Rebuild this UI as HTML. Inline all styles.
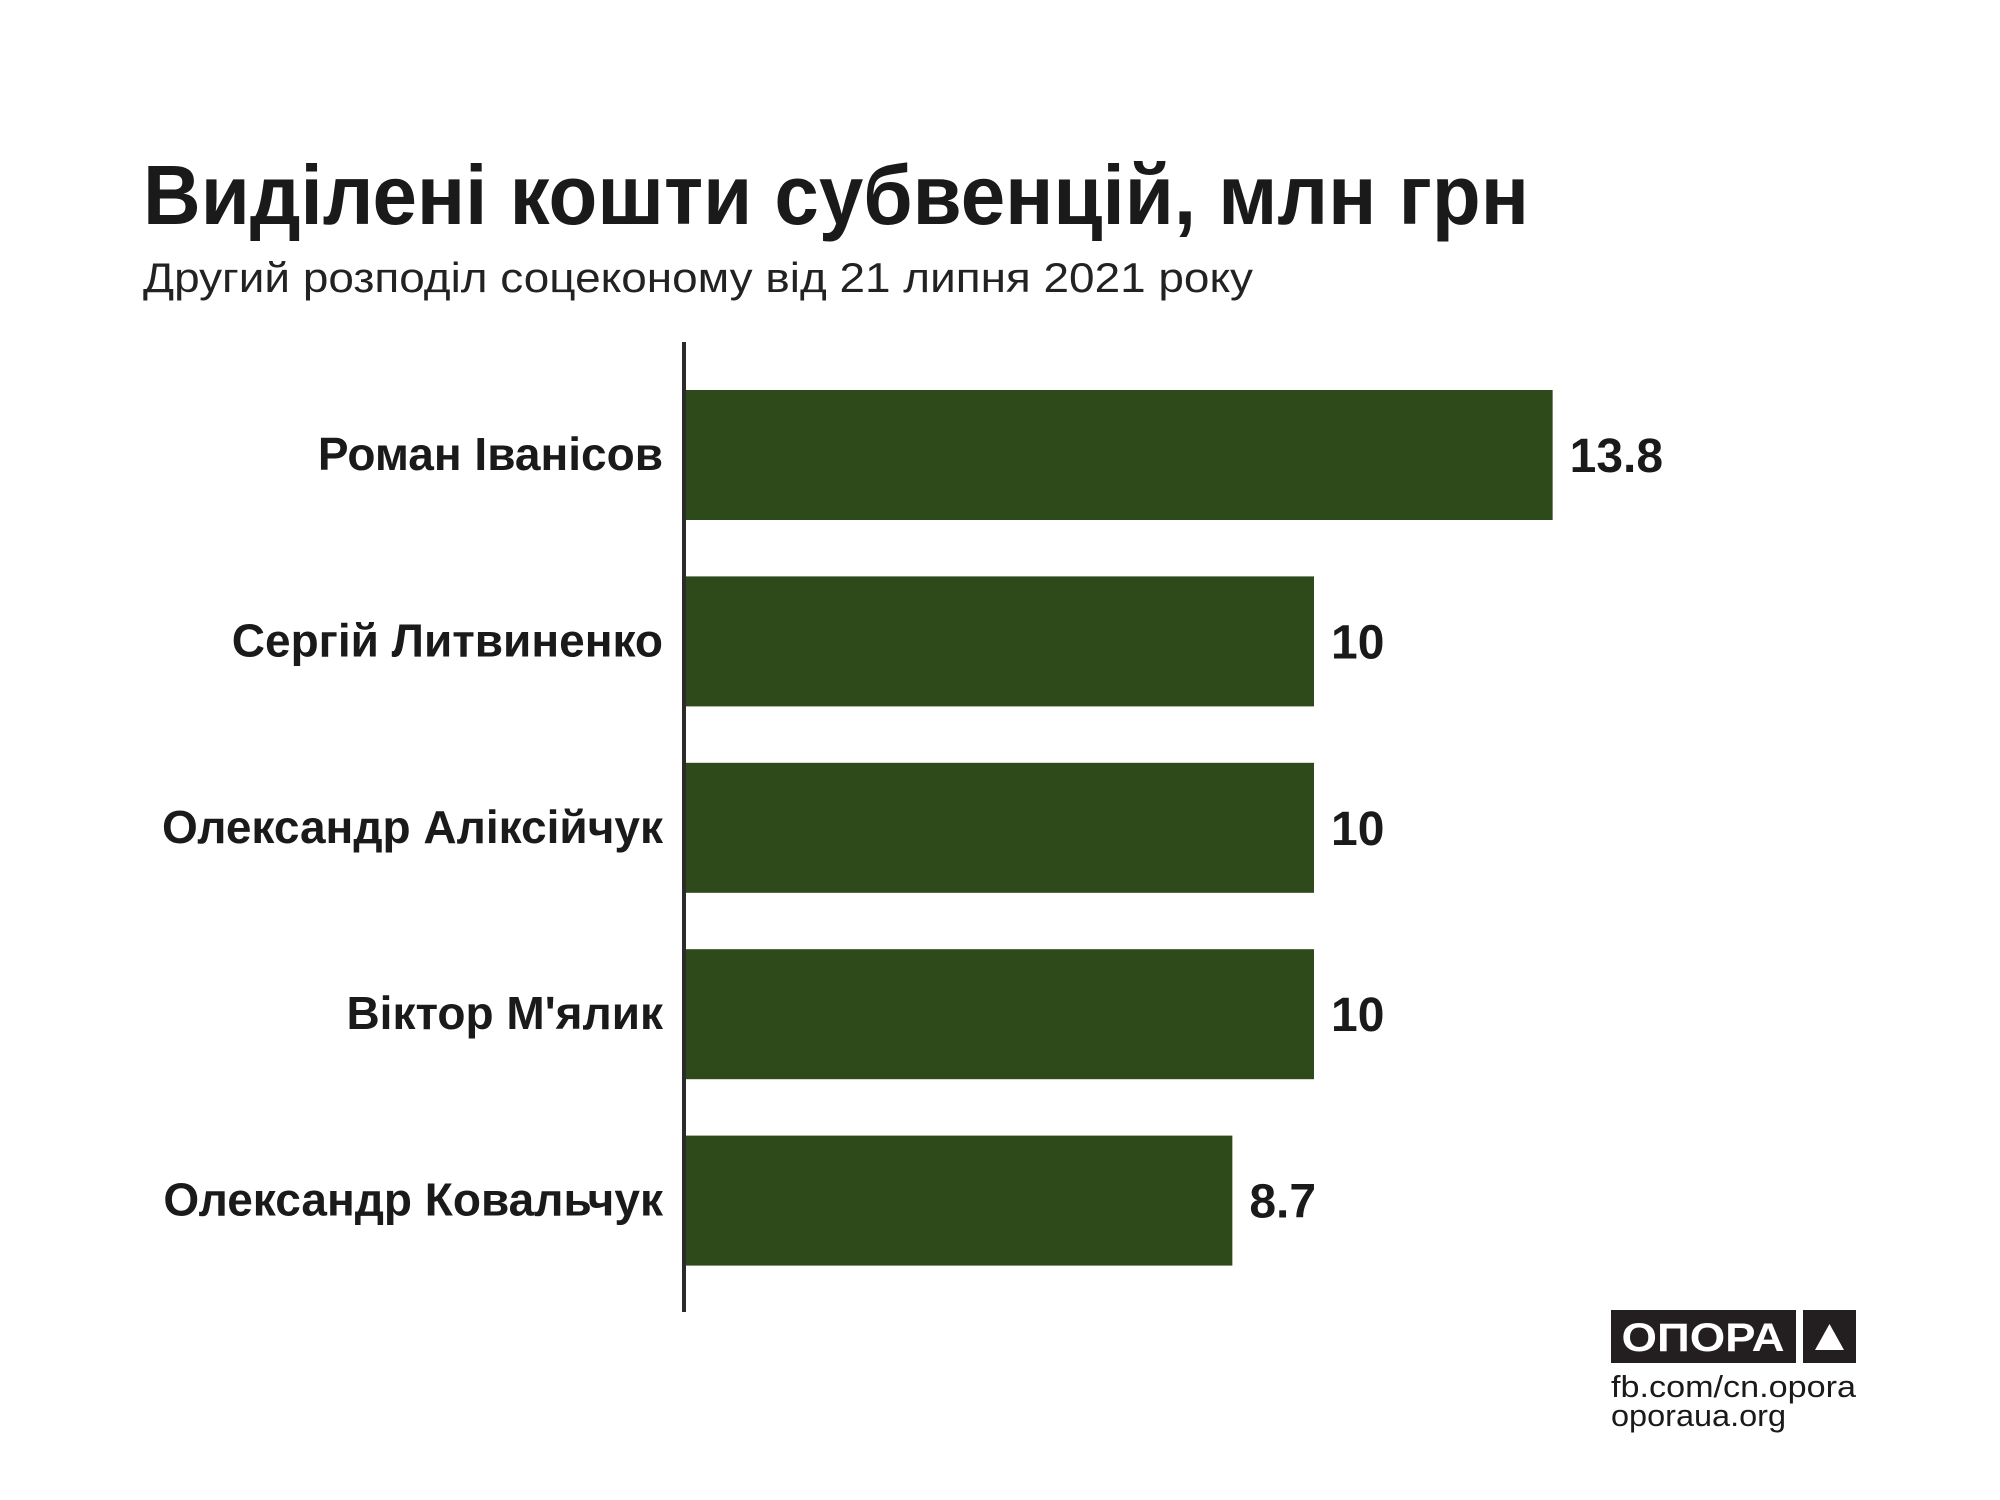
<!DOCTYPE html>
<html><head><meta charset="utf-8">
<style>
html,body{margin:0;padding:0;background:#fff;}
svg{display:block;font-family:"Liberation Sans","DejaVu Sans",sans-serif;}
</style></head>
<body>
<svg id="chart" width="2000" height="1500" viewBox="0 0 2000 1500">
<rect width="2000" height="1500" fill="#fff"/>
<text x="143" y="224" font-size="84" font-weight="bold" fill="#1a1a1a" textLength="1386" lengthAdjust="spacingAndGlyphs">Виділені кошти субвенцій, млн грн</text>
<text x="143" y="292" font-size="42" fill="#222" textLength="1110" lengthAdjust="spacingAndGlyphs">Другий розподіл соцеконому від 21 липня 2021 року</text>
<g id="bars"></g>
<line x1="684" y1="342" x2="684" y2="1312" stroke="#2b2b2b" stroke-width="4"/>
<g>
<rect x="1611" y="1310" width="185" height="53" fill="#231f20"/>
<text x="1703" y="1351" font-size="40" font-weight="bold" fill="#fff" text-anchor="middle" textLength="163" lengthAdjust="spacingAndGlyphs">ОПОРА</text>
<rect x="1803" y="1310" width="53" height="53" fill="#231f20"/>
<polygon points="1829.5,1324 1844,1350 1815,1350" fill="#fff"/>
<text x="1611" y="1397" font-size="31" fill="#1a1a1a" textLength="245" lengthAdjust="spacingAndGlyphs">fb.com/cn.opora</text>
<text x="1611" y="1426" font-size="31" fill="#1a1a1a" textLength="175" lengthAdjust="spacingAndGlyphs">oporaua.org</text>
</g>
</svg>
<script>
const categories = ["Роман Іванісов","Сергій Литвиненко","Олександр Аліксійчук","Віктор М'ялик","Олександр Ковальчук"];
const values = [13.8, 10, 10, 10, 8.7];
const valueLabels = ["13.8","10","10","10","8.7"];

const NS = "http://www.w3.org/2000/svg";
const x0 = 686, pxPerUnit = 62.8;
const xScale = v => x0 + v * pxPerUnit;
const yTop = 390, step = 186.4, barH = 130;
const yScale = i => yTop + i * step;
const g = document.getElementById('bars');
categories.forEach((c, i) => {
  const y = yScale(i);
  const r = document.createElementNS(NS, 'rect');
  r.setAttribute('x', x0);
  r.setAttribute('y', y);
  r.setAttribute('width', xScale(values[i]) - x0);
  r.setAttribute('height', barH);
  r.setAttribute('fill', '#2e4a1b');
  
  
  g.appendChild(r);
  const l = document.createElementNS(NS, 'text');
  l.setAttribute('x', 663);
  l.setAttribute('y', y + barH / 2 + 15);
  l.setAttribute('text-anchor', 'end');
  l.setAttribute('font-size', '46');
  l.setAttribute('font-weight', 'bold');
  l.setAttribute('fill', '#1a1a1a');
  l.textContent = c;
  
  
  g.appendChild(l);
  const v = document.createElementNS(NS, 'text');
  v.setAttribute('x', xScale(values[i]) + 17);
  v.setAttribute('y', y + barH / 2 + 17);
  v.setAttribute('font-size', '48');
  v.setAttribute('font-weight', 'bold');
  v.setAttribute('fill', '#1a1a1a');
  v.textContent = valueLabels[i];
  
  
  g.appendChild(v);
});
</script>
</body></html>
